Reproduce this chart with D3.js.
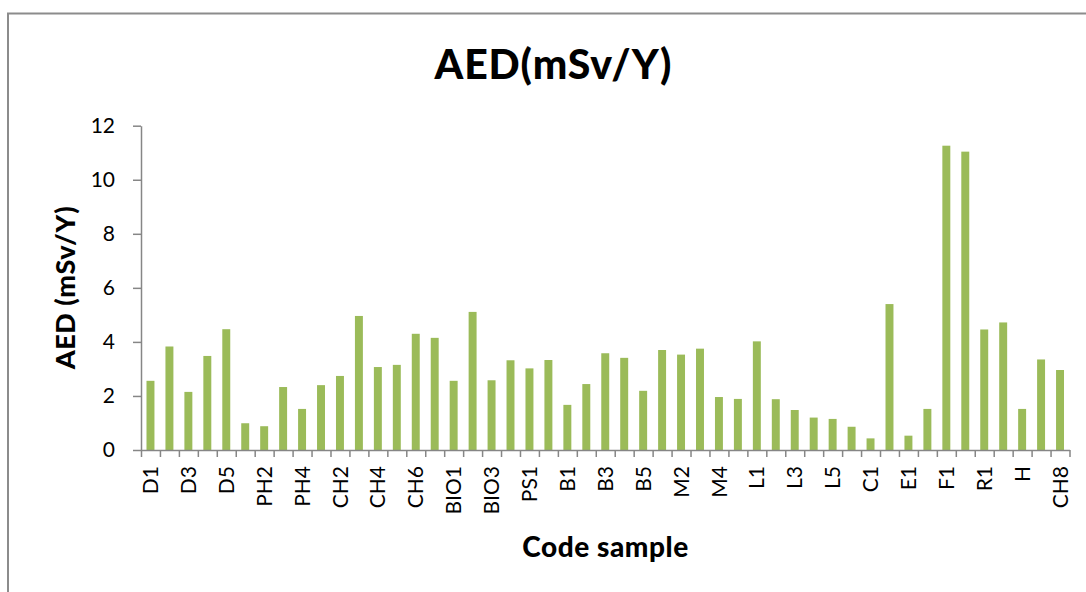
<!DOCTYPE html>
<html>
<head>
<meta charset="utf-8">
<script src="https://cdn.jsdelivr.net/npm/d3@7/dist/d3.min.js"></script>
<style>
  html, body { margin: 0; padding: 0; background: #fff; }
  svg { display: block; }
  text { font-family: Lato, "Open Sans", sans-serif; fill: #000; }
</style>
</head>
<body>
<svg id="chart" width="1086" height="592"></svg>
<script>
// Sample codes in plotting order (every second one is labelled on the axis)
const categories = [
  "D1","D2","D3","D4","D5","PH1","PH2","PH3","PH4","CH1",
  "CH2","CH3","CH4","CH5","CH6","CH7","BIO1","BIO2","BIO3","BIO4",
  "PS1","PS2","B1","B2","B3","B4","B5","M1","M2","M3",
  "M4","M5","L1","L2","L3","L4","L5","L6","C1","C2",
  "E1","E2","F1","F2","R1","R2","H","G","CH8"
];

// Annual effective dose per sample (mSv/Y)
const aed = [
  2.56, 3.83, 2.15, 3.48, 4.47, 0.99, 0.88, 2.33, 1.52, 2.40,
  2.74, 4.96, 3.07, 3.15, 4.30, 4.15, 2.56, 5.11, 2.58, 3.32,
  3.02, 3.33, 1.67, 2.44, 3.58, 3.41, 2.19, 3.70, 3.53, 3.75,
  1.96, 1.89, 4.02, 1.88, 1.48, 1.20, 1.15, 0.86, 0.43, 5.40,
  0.53, 1.52, 11.26, 11.04, 4.46, 4.72, 1.52, 3.35, 2.96
];

const yTicks = [0, 2, 4, 6, 8, 10, 12];

const chartTitle = "AED(mSv/Y)";
const yTitle = "AED (mSv/Y)";
const xTitle = "Code sample";

const svg = d3.select("#chart");
const axisColor = "#868686";
const barColor = "#9bbb59";

// chart frame
svg.append("rect")
  .attr("x", 8).attr("y", 13.5)
  .attr("width", 1200).attr("height", 700)
  .attr("fill", "none")
  .attr("stroke", "#8c8c8c")
  .attr("stroke-width", 2);

const plot = { left: 141, right: 1069.5, top: 125.7, bottom: 450 };

const x = d3.scaleBand()
  .domain(categories)
  .range([plot.left, plot.right])
  .paddingInner(0).paddingOuter(0);

// boundary positions between categories, for the tick marks
const xEdges = d3.scaleLinear()
  .domain([0, categories.length])
  .range([plot.left, plot.right]);

const y = d3.scaleLinear()
  .domain([0, 12])
  .range([plot.bottom, plot.top]);

// bars
const barW = x.bandwidth() * 0.42;
svg.append("g")
  .selectAll("rect")
  .data(aed)
  .join("rect")
  .attr("x", (d, i) => x(categories[i]) + (x.bandwidth() - barW) / 2)
  .attr("y", d => y(d))
  .attr("width", barW)
  .attr("height", d => y(0) - y(d))
  .attr("fill", barColor);

// y axis
const yAxis = svg.append("g")
  .attr("transform", `translate(${plot.left},0)`)
  .call(d3.axisLeft(y).tickValues(yTicks).tickSize(8).tickPadding(18).tickSizeOuter(0));
yAxis.select(".domain").attr("stroke", axisColor).attr("stroke-width", 1.5);
yAxis.selectAll(".tick line").attr("stroke", axisColor).attr("stroke-width", 1.5);
yAxis.selectAll(".tick text")
  .style("font-size", "21px")
  .attr("fill", "#000");

// x axis: tick marks on category boundaries
const xTickAxis = svg.append("g")
  .attr("transform", `translate(0,${plot.bottom})`)
  .call(d3.axisBottom(xEdges)
    .tickValues(d3.range(categories.length + 1))
    .tickSize(7).tickSizeOuter(0)
    .tickFormat(""));
xTickAxis.select(".domain").attr("stroke", axisColor).attr("stroke-width", 1.5);
xTickAxis.selectAll(".tick line").attr("stroke", axisColor).attr("stroke-width", 1.5);

// x axis: rotated labels on every second category
const xLabelAxis = svg.append("g")
  .attr("transform", `translate(0,${plot.bottom})`)
  .call(d3.axisBottom(x)
    .tickValues(categories.filter((c, i) => i % 2 === 0))
    .tickSize(0));
xLabelAxis.select(".domain").remove();
xLabelAxis.selectAll(".tick text")
  .attr("transform", "rotate(-90)")
  .attr("x", -16)
  .attr("y", 0)
  .attr("dy", "0.36em")
  .attr("text-anchor", "end")
  .style("font-size", "21px")
  .attr("fill", "#000");

// titles
svg.append("text")
  .attr("x", 553).attr("y", 79)
  .attr("text-anchor", "middle")
  .attr("textLength", 237)
  .attr("lengthAdjust", "spacing")
  .style("font-size", "41px")
  .style("font-weight", "900")
  .text(chartTitle);

svg.append("text")
  .attr("transform", `translate(75,${(plot.top + plot.bottom) / 2}) rotate(-90)`)
  .attr("text-anchor", "middle")
  .attr("textLength", 163)
  .attr("lengthAdjust", "spacing")
  .style("font-size", "27px")
  .style("font-weight", "900")
  .text(yTitle);

svg.append("text")
  .attr("x", (plot.left + plot.right) / 2).attr("y", 557)
  .attr("text-anchor", "middle")
  .attr("textLength", 166)
  .attr("lengthAdjust", "spacing")
  .style("font-size", "28px")
  .style("font-weight", "900")
  .text(xTitle);
</script>
</body>
</html>
